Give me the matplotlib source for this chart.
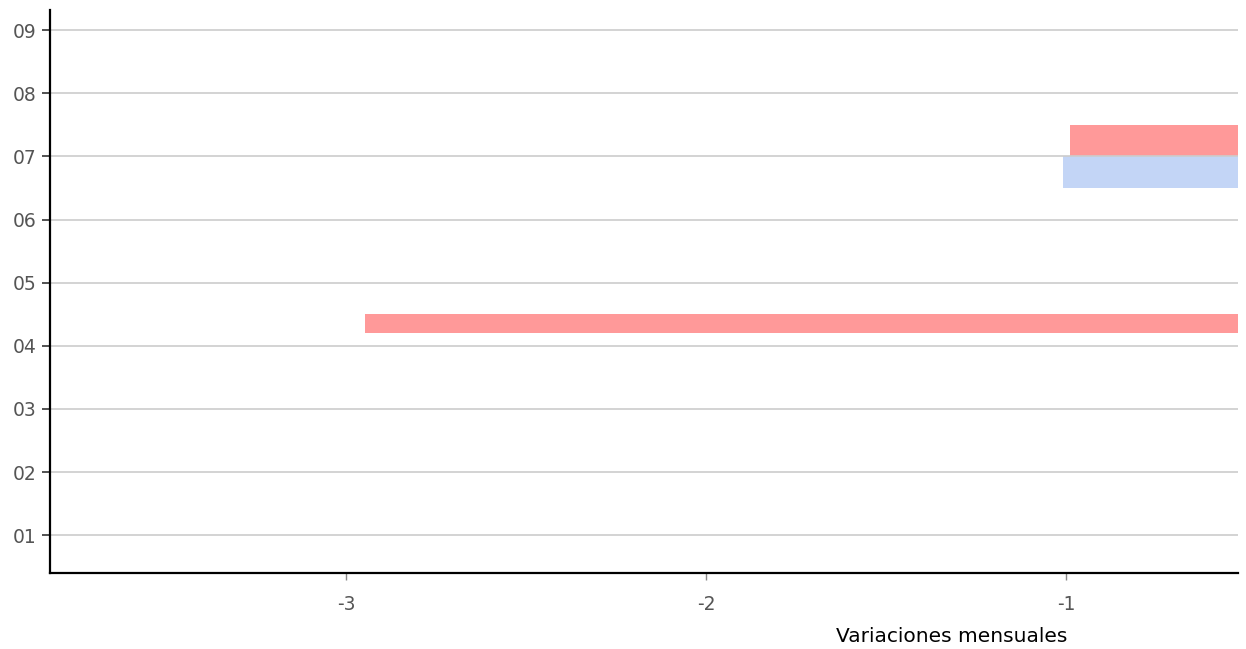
import matplotlib.pyplot as plt

categories = ["01", "02", "03", "04", "05", "06", "07", "08", "09"]

# red series (upper bar of each month pair)
red_cats = ["04", "07"]
red_vals = [-2.947, -0.989]
# blue series (lower bar)
blue_cats = ["07"]
blue_vals = [-1.008]

red_color = "#ff9999"
blue_color = "#c3d5f6"

fig = plt.figure(figsize=(12.46, 6.49), dpi=100)
ax = fig.add_axes([50 / 1246, 1 - 573 / 649, 1188 / 1246, 563 / 649])

ypos = {c: i for i, c in enumerate(categories)}

# bar placement within each category slot
red_offset = {"04": 0.355, "07": 0.25}
red_height = {"04": 0.31, "07": 0.5}
for c, v in zip(red_cats, red_vals):
    ax.barh(ypos[c] + red_offset[c], v, height=red_height[c], color=red_color, zorder=1)
for c, v in zip(blue_cats, blue_vals):
    ax.barh(ypos[c] - 0.25, v, height=0.5, color=blue_color, zorder=1)

ax.set_xlim(-3.822, -0.522)
ax.set_ylim(-0.6, 8.32)
ax.set_yticks(range(len(categories)))
ax.set_yticklabels(categories)
ax.set_xticks([-3, -2, -1])
ax.set_xticklabels(["-3", "-2", "-1"])

ax.grid(axis="y", color="#cccccc", linewidth=1.2, zorder=2)
ax.set_axisbelow(False)
for s in ["top", "right"]:
    ax.spines[s].set_visible(False)
for s in ["left", "bottom"]:
    ax.spines[s].set_linewidth(1.6)
    ax.spines[s].set_color("black")
    ax.spines[s].set_zorder(3)

ax.tick_params(axis="y", length=5.5, width=1.2, color="#333333", labelsize=13.5, labelcolor="#555555", pad=4)
ax.tick_params(axis="x", length=5, width=1, color="#888888", labelsize=13.5, labelcolor="#555555", pad=11)

fig.text(952 / 1246, 1 - 636 / 649, "Variaciones mensuales", ha="center", va="center", fontsize=14.5, color="black")

fig.savefig("out.png", dpi=100)
